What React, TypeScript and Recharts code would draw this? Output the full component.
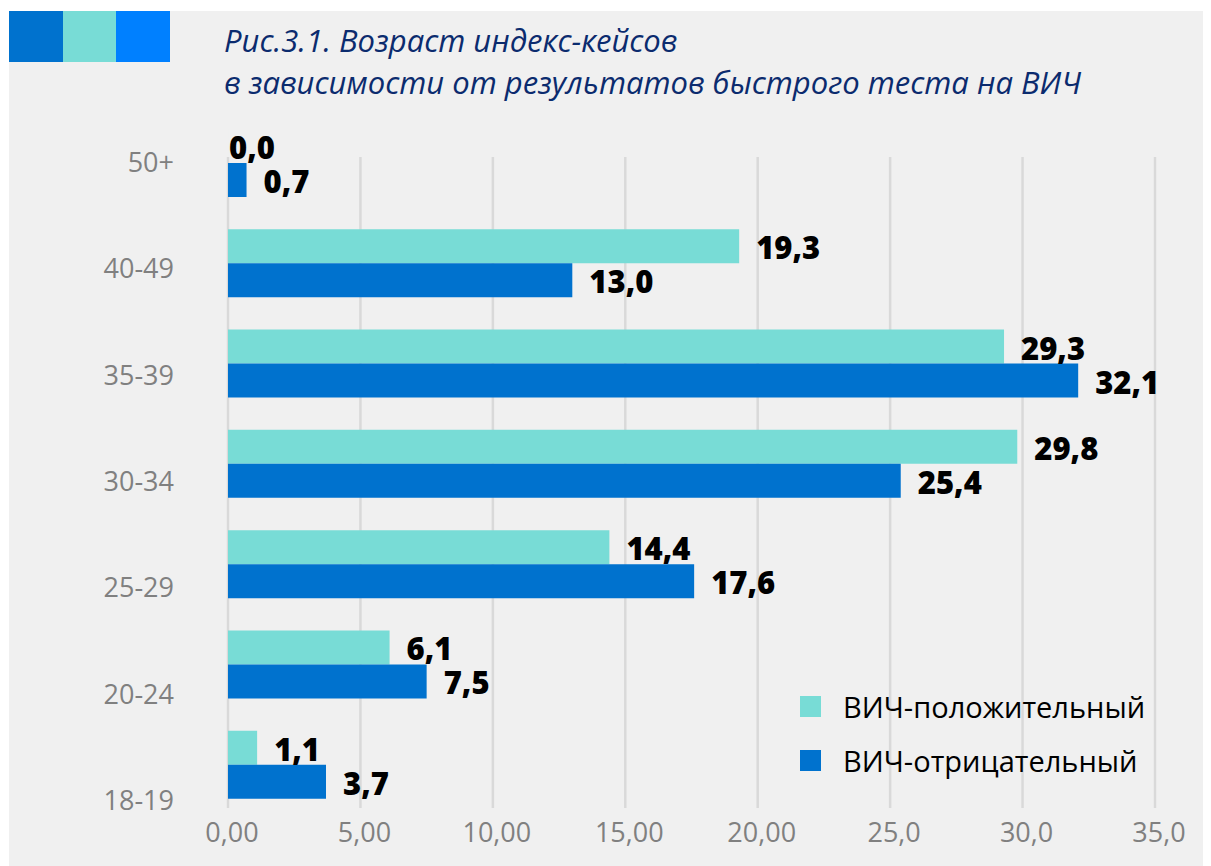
import { BarChart, Bar, XAxis, YAxis, CartesianGrid, Legend, LabelList } from 'recharts'

const ageGroups = ['50+', '40-49', '35-39', '30-34', '25-29', '20-24', '18-19']
const hivPositive = [0.0, 19.3, 29.3, 29.8, 14.4, 6.1, 1.1]
const hivNegative = [0.7, 13.0, 32.1, 25.4, 17.6, 7.5, 3.7]
const xTicks = [0, 5, 10, 15, 20, 25, 30, 35]
const xTickLabels = ['0,00', '5,00', '10,00', '15,00', '20,00', '25,0', '30,0', '35,0']

const seriesNames = ['ВИЧ-положительный', 'ВИЧ-отрицательный']
const titleLines = ['Рис.3.1. Возраст индекс-кейсов', 'в зависимости от результатов быстрого теста на ВИЧ']

const TEAL = '#78dcd6'
const BLUE = '#0072ce'
const FONT = '"Open Sans", "DejaVu Sans", sans-serif'

const data = ageGroups.map((age, i) => ({ age, pos: hivPositive[i], neg: hivNegative[i] }))

// labels in the original drift down a little from the band centres
function AgeTick(props: any) {
  const { y, payload, index } = props
  return (
    <text x={165} y={y + index * 6 - 1} dy={10} textAnchor="end" fill="#808080" fontSize={27} fontFamily={FONT}>
      {payload.value}
    </text>
  )
}

function ValueTick(props: any) {
  const { x, y, index } = props
  return (
    <text x={x + 4} y={y} dy={27} textAnchor="middle" fill="#808080" fontSize={27} fontFamily={FONT}>
      {xTickLabels[index]}
    </text>
  )
}

function ValueLabel(props: any) {
  const { x, y, width, height, value } = props
  const tx = value > 0 ? x + width + 17 : x + 1
  return (
    <text x={tx} y={y + height / 2 + 13} fill="#000" fontSize={31} fontWeight={800} fontFamily={FONT}>
      {Number(value).toFixed(1).replace('.', ',')}
    </text>
  )
}

function GridLine(props: any) {
  const { x1, x2, y1, y2, key } = props
  return <line key={key} x1={x1} x2={x2} y1={y1 + 44} y2={y2 - 7} stroke="#d9d9d9" strokeWidth={2.5} />
}

function LegendBox(props: any) {
  const items = [...(props.payload || [])].sort(
    (a: any, b: any) => seriesNames.indexOf(a.value) - seriesNames.indexOf(b.value)
  )
  return (
    <div style={{ fontFamily: FONT }}>
      {items.map((it: any) => (
        <div key={it.value} style={{ display: 'flex', alignItems: 'center', height: 54 }}>
          <span style={{ width: 21, height: 21, background: it.color, display: 'inline-block', marginRight: 22 }} />
          <span style={{ fontSize: 29, color: '#000' }}>{it.value}</span>
        </div>
      ))}
    </div>
  )
}

export default function App() {
  return (
    <div style={{ position: 'relative', width: 1202, height: 855, marginLeft: 1, marginTop: 3, background: '#f0f0f0', overflow: 'hidden' }}>
      <div style={{ position: 'absolute', left: 0, top: 0, display: 'flex' }}>
        <div style={{ width: 54, height: 51, background: BLUE }} />
        <div style={{ width: 53, height: 51, background: TEAL }} />
        <div style={{ width: 54, height: 51, background: '#0080ff' }} />
      </div>
      <div
        style={{
          position: 'absolute', left: 215, top: 8, fontFamily: FONT, fontStyle: 'italic', fontWeight: 500,
          fontSize: 31, lineHeight: '42px', color: '#0b2b6e',
        }}
      >
        {titleLines.map((l) => <div key={l}>{l}</div>)}
      </div>
      <div style={{ position: 'absolute', left: 0, top: 0 }}>
        <BarChart
          width={1202}
          height={855}
          data={data}
          layout="vertical"
          margin={{ top: 102, right: 56, left: 0, bottom: 0 }}
          barGap={0}
          barSize={34}
        >
          <CartesianGrid horizontal={false} vertical={GridLine} />
          <XAxis
            type="number"
            domain={[0, 35]}
            ticks={xTicks}
            axisLine={false}
            tickLine={false}
            tickSize={0}
            tickMargin={0}
            height={51}
            tick={<ValueTick />}
            interval={0}
          />
          <YAxis
            type="category"
            dataKey="age"
            width={219}
            axisLine={false}
            tickLine={false}
            tick={<AgeTick />}
            interval={0}
          />
          <Legend
            layout="vertical"
            align="center"
            verticalAlign="middle"
            content={<LegendBox />}
            wrapperStyle={{ position: 'absolute', left: 791, top: 668, width: 400, height: 108 }}
          />
          <Bar dataKey="pos" name={seriesNames[0]} fill={TEAL} minPointSize={0.01} isAnimationActive={false}>
            <LabelList dataKey="pos" content={<ValueLabel />} />
          </Bar>
          <Bar dataKey="neg" name={seriesNames[1]} fill={BLUE} isAnimationActive={false}>
            <LabelList dataKey="neg" content={<ValueLabel />} />
          </Bar>
        </BarChart>
      </div>
    </div>
  )
}
